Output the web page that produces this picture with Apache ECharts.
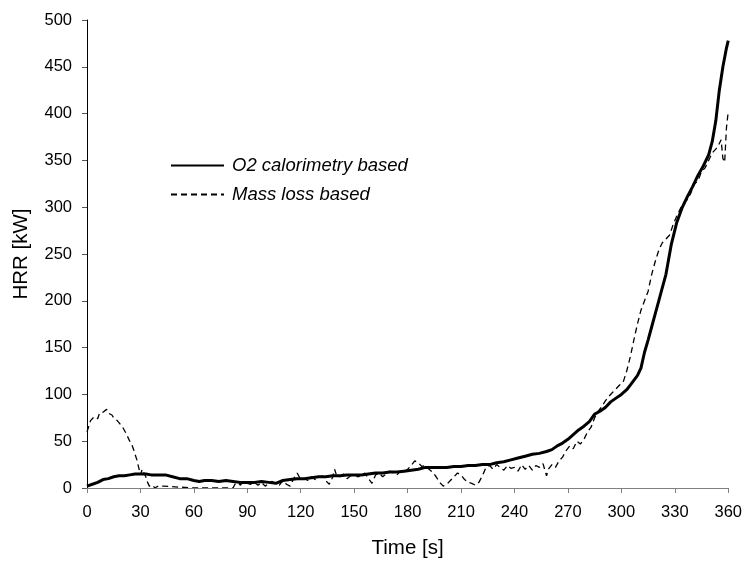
<!DOCTYPE html>
<html>
<head>
<meta charset="utf-8">
<script src="https://cdn.jsdelivr.net/npm/echarts@6/dist/echarts.min.js"></script>
<style>
  html, body { margin: 0; padding: 0; background: #fff; }
  #chart { width: 745px; height: 564px; }
</style>
</head>
<body>
<div id="chart"></div>
<script>
// Heat release rate from oxygen consumption calorimetry
var o2Time = [0, 3, 6, 9, 12, 15, 18, 21, 24, 27, 30, 33, 36, 40, 44, 48, 52, 56, 60, 63, 66, 70, 74, 78, 82, 86, 90, 94, 98, 102, 106, 110, 114, 118, 122, 126, 130, 134, 138, 142, 146, 150, 154, 158, 162, 166, 170, 174, 178, 182, 186, 190, 194, 198, 202, 206, 210, 214, 218, 222, 226, 230, 234, 238, 242, 246, 250, 254, 258, 261, 264, 267, 270, 273, 276, 279, 282, 285, 288, 291, 294, 297, 300, 303, 305, 307, 309, 311, 313, 315, 317, 319, 321, 323, 325, 328, 331, 334, 337, 340, 343, 346, 349, 351, 353, 355, 357, 359, 360];
var o2Hrr = [2, 4, 6, 9, 10, 12, 13, 13, 14, 15, 15, 15, 14, 14, 14, 12, 10, 10, 8, 7, 8, 8, 7, 8, 7, 6, 6, 6, 7, 6, 5, 8, 9, 10, 10, 11, 12, 12, 13, 13, 14, 14, 14, 15, 16, 16, 17, 17, 18, 19, 20, 22, 22, 22, 22, 23, 23, 24, 24, 25, 25, 27, 28, 30, 32, 34, 36, 37, 39, 41, 45, 48, 52, 57, 62, 66, 71, 79, 82, 86, 92, 96, 100, 105, 110, 115, 120, 128, 145, 158, 172, 186, 200, 214, 228, 260, 283, 299, 311, 322, 334, 344, 356, 370, 392, 425, 450, 470, 478];

// Heat release rate derived from specimen mass loss
var massTime = [0, 1, 2, 3, 4, 5, 6, 7, 8, 9, 10, 11, 12, 13, 14, 15, 16, 17, 18, 20, 22, 24, 25, 26, 27, 28, 29, 30, 31, 32, 33, 34, 35, 36, 37, 38, 40, 41, 43, 44, 60, 82, 83, 85, 86, 88, 90, 92, 94, 96, 98, 100, 102, 104, 106, 108, 110, 112, 114, 116, 118, 120, 122, 124, 126, 128, 130, 132, 134, 136, 138, 139, 140, 142, 144, 146, 148, 150, 152, 154, 156, 158, 160, 162, 164, 166, 168, 170, 172, 174, 176, 178, 180, 182, 184, 186, 188, 190, 192, 194, 196, 198, 200, 202, 204, 206, 208, 210, 212, 214, 216, 218, 220, 222, 224, 226, 228, 230, 232, 234, 236, 238, 240, 242, 244, 246, 248, 250, 252, 254, 256, 258, 259, 261, 263, 265, 267, 269, 271, 273, 275, 277, 279, 281, 283, 285, 287, 289, 291, 293, 295, 297, 299, 301, 303, 305, 307, 309, 311, 313, 315, 317, 319, 321, 323, 325, 327, 329, 331, 333, 335, 337, 339, 341, 343, 345, 347, 349, 351, 353, 355, 356, 357, 358, 359, 360];
var massHrr = [60, 66, 72, 70, 76, 78, 74, 80, 78, 81, 82, 84, 80, 82, 78, 75, 73, 72, 70, 65, 58, 50, 47, 42, 36, 30, 22, 14, 20, 18, 12, 6, 2, 0, 3, 0, 2, 0, 2, 0, 0, 0, 4, 6, 3, 7, 5, 4, 6, 3, 6, 2, 5, 7, 4, 3, 8, 4, 2, 10, 16, 9, 10, 8, 12, 9, 11, 13, 8, 4, 12, 20, 14, 12, 15, 10, 13, 15, 12, 13, 16, 10, 5, 14, 16, 12, 15, 18, 16, 14, 18, 17, 20, 24, 29, 27, 23, 24, 20, 17, 12, 6, 2, 4, 8, 12, 16, 14, 9, 6, 5, 3, 6, 13, 22, 24, 20, 25, 22, 19, 24, 21, 22, 18, 25, 20, 24, 19, 24, 22, 26, 13, 20, 25, 22, 29, 33, 40, 45, 42, 50, 47, 52, 60, 65, 75, 82, 87, 93, 98, 102, 106, 110, 113, 125, 140, 158, 175, 190, 200, 210, 228, 242, 254, 262, 266, 270, 281, 290, 298, 305, 308, 315, 325, 328, 338, 342, 350, 358, 362, 368, 372, 352, 348, 385, 402];

var xTicks = { min: 0, max: 360, step: 30 };
var yTicks = { min: 0, max: 500, step: 50 };

function pairs(xs, ys) {
  return xs.map(function (x, i) { return [x, ys[i]]; });
}

var FONT = '"Liberation Sans", Arial, sans-serif';
var chart = echarts.init(document.getElementById('chart'), null, { renderer: 'canvas' });

chart.setOption({
  animation: false,
  backgroundColor: '#ffffff',
  grid: { left: 87, right: 15, top: 20, bottom: 71, containLabel: false },
  legend: {
    orient: 'vertical',
    left: 170,
    top: 156,
    padding: 0,
    itemWidth: 53,
    itemHeight: 14,
    itemGap: 10,
    itemStyle: { opacity: 0, color: 'rgba(0,0,0,0)', borderWidth: 0 },
    textStyle: { fontFamily: FONT, fontSize: 18.5, fontStyle: 'italic', color: '#000', padding: [0, 0, 0, 3] },
    data: ['O2 calorimetry based', 'Mass loss based']
  },
  xAxis: {
    type: 'value',
    min: xTicks.min,
    max: xTicks.max,
    interval: xTicks.step,
    z: 3,
    name: 'Time [s]',
    nameLocation: 'middle',
    nameGap: 50,
    nameTextStyle: { fontFamily: FONT, fontSize: 20.5, color: '#000' },
    axisLine: { show: true, lineStyle: { color: '#808080', width: 1 } },
    axisTick: { show: true, length: 5, lineStyle: { color: '#808080' } },
    axisLabel: { fontFamily: FONT, fontSize: 16.5, color: '#000', margin: 16 },
    splitLine: { show: false }
  },
  yAxis: {
    type: 'value',
    min: yTicks.min,
    max: yTicks.max,
    interval: yTicks.step,
    name: 'HRR [kW]',
    nameLocation: 'middle',
    nameGap: 55,
    nameTextStyle: { fontFamily: FONT, fontSize: 20.5, color: '#000' },
    axisLine: { show: true, lineStyle: { color: '#000', width: 1 } },
    axisTick: { show: true, length: 5, lineStyle: { color: '#555' } },
    axisLabel: { fontFamily: FONT, fontSize: 16.5, color: '#000', margin: 15 },
    splitLine: { show: false }
  },
  series: [
    {
      name: 'O2 calorimetry based',
      type: 'line',
      data: pairs(o2Time, o2Hrr),
      symbol: 'none',
      z: 4,
      lineStyle: { color: '#000', width: 3 },
      itemStyle: { color: '#000' }
    },
    {
      name: 'Mass loss based',
      type: 'line',
      data: pairs(massTime, massHrr),
      symbol: 'none',
      z: 2,
      lineStyle: { color: '#000', width: 1.3, type: [6, 4] },
      itemStyle: { color: '#000' }
    }
  ]
});
</script>
</body>
</html>
